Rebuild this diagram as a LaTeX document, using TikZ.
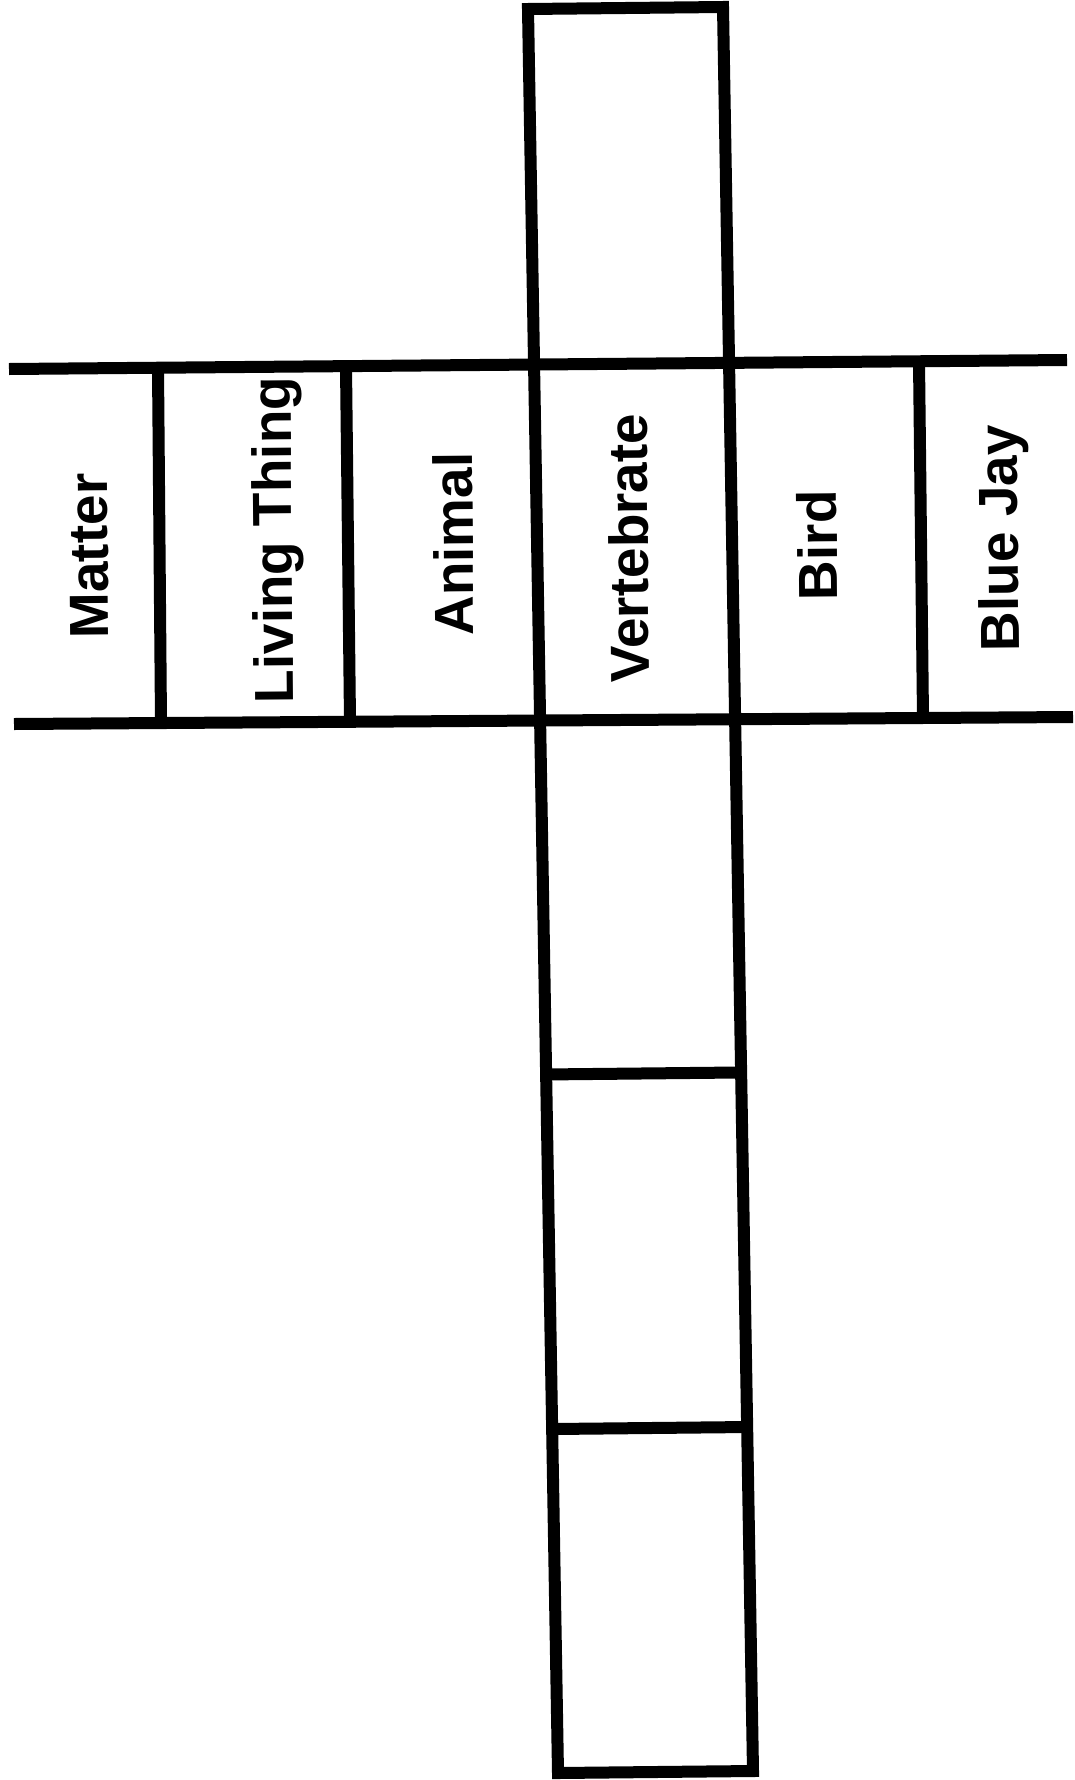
\documentclass[tikz,border=0pt]{standalone}
\usepackage{fontspec}
\newfontfamily\labfont{Liberation Sans}
\usetikzlibrary{calc}
\begin{document}
\begin{tikzpicture}[x=1pt,y=-1pt,
  thickline/.style={line width=12pt,line join=miter,line cap=rect},
  lbl/.style={rotate=90.5,anchor=base,inner sep=0pt,font=\labfont\bfseries\fontsize{55}{60}\selectfont}]
\useasboundingbox (0,0) rectangle (1075,1780);
% column corners
\coordinate (TL) at (528,9);
\coordinate (TR) at (723,7);
\coordinate (BR) at (753,1771);
\coordinate (BL) at (558,1773);
% strip lines
\coordinate (S1L) at (9,369);
\coordinate (S1R) at (1067,360);
\coordinate (S2L) at (14,724);
\coordinate (S2R) at (1073,717);
% column outline
\draw[thickline] (TL) -- (TR) -- (BR) -- (BL) -- cycle;
% strip horizontals
\draw[thickline,line cap=butt] (S1L) -- (S1R);
\draw[thickline,line cap=butt] (S2L) -- (S2R);
% column dividers
\draw[thickline,line cap=butt] ($(TL)!0.604!(BL)$) -- ($(TR)!0.604!(BR)$);
\draw[thickline,line cap=butt] ($(TL)!0.805!(BL)$) -- ($(TR)!0.805!(BR)$);
% strip dividers
\draw[thickline,line cap=butt] (158,367.7) -- (161,722.2);
\draw[thickline,line cap=butt] (346,366.1) -- (350,721.1);
\draw[thickline,line cap=butt] (919,361.3) -- (923,717.9);
% labels
\node[lbl] (matter) at (108,556) {Matter};
\node[lbl] (living) at (292,540) {Living Thing};
\node[lbl] (animal) at (473,544) {Animal};
\node[lbl] (vert) at (648,548) {Vertebrate};
\node[lbl] (bird) at (837,545) {Bird};
\node[lbl] (bluejay) at (1018,538) {Blue Jay};
\end{tikzpicture}
\end{document}
